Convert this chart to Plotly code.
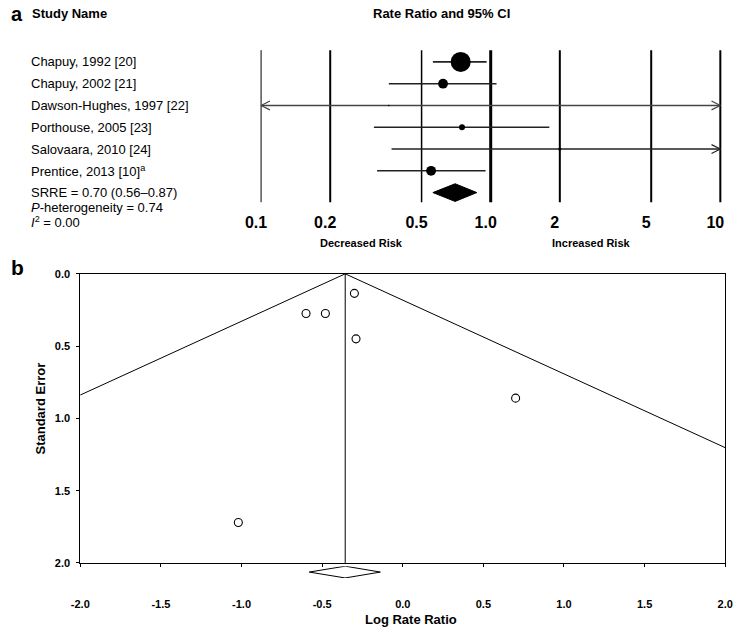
import plotly.graph_objects as go

# ---------------- data ----------------
studies = ["Chapuy, 1992 [20]", "Chapuy, 2002 [21]", "Dawson-Hughes, 1997 [22]",
           "Porthouse, 2005 [23]", "Salovaara, 2010 [24]", "Prentice, 2013 [10]<sup>a</sup>"]
rate_ratio = [0.74, 0.62, 0.36, 0.75, 2.0, 0.55]
ci_lower = [0.56, 0.36, 0.034, 0.31, 0.37, 0.32]
ci_upper = [0.96, 1.06, 10.5, 1.80, 10.8, 0.95]

pooled_rr = 0.70
pooled_lower = 0.56
pooled_upper = 0.87

ref_ticks = [0.1, 0.2, 0.5, 1.0, 2, 5, 10]
ref_tick_text = ["0.1", "0.2", "0.5", "1.0", "2", "5", "10"]

# funnel plot (panel b)
funnel_log_rr = [-0.30, -0.48, -1.02, -0.29, 0.70, -0.60]
funnel_se = [0.135, 0.275, 1.72, 0.45, 0.86, 0.275]
pooled_log = -0.357
pooled_log_lower = -0.58
pooled_log_upper = -0.139
se_max = 2.0

x2_ticks = [-2.0, -1.5, -1.0, -0.5, 0.0, 0.5, 1.0, 1.5, 2.0]
y2_ticks = [0.0, 0.5, 1.0, 1.5, 2.0]

# ---------------- geometry helpers ----------------
W, H = 742, 633
FONT = "Arial, Liberation Sans, sans-serif"


def py(p):
    return 1 - p / H


def px(p):
    return p / W


ROW0, ROWH = 57.0, 22.2          # pixel of first row, row height


def row_of(pix):
    return (pix - ROW0) / ROWH


PXDEC = 235.0                    # pixels per decade in panel a
XA_LEFT, XA_RIGHT = 250, 736
xa_range = [-1 - (258 - XA_LEFT) / PXDEC, 1 + (XA_RIGHT - 728) / PXDEC]

fig = go.Figure()

# reference vertical lines panel a
ref_widths = [1, 2, 1.5, 3, 2, 2, 2]
for v, w in zip(ref_ticks, ref_widths):
    fig.add_trace(go.Scatter(x=[v, v], y=[row_of(45), row_of(200)], mode="lines",
                             line=dict(color="black", width=w), xaxis="x", yaxis="y",
                             hoverinfo="skip", showlegend=False))

# CI lines and arrows
chev_f = 10 ** (9 / PXDEC)
chev_h = 4.5 / ROWH
xmin, xmax = ref_ticks[0], ref_ticks[-1]
for i, (lo, hi) in enumerate(zip(ci_lower, ci_upper)):
    lo_c = max(lo, xmin)
    hi_c = min(hi, xmax)
    col = "#444444" if (lo < xmin and hi > xmax) else "#222222"
    fig.add_trace(go.Scatter(x=[lo_c, hi_c], y=[i, i], mode="lines",
                             line=dict(color=col, width=1.6), xaxis="x", yaxis="y",
                             hoverinfo="skip", showlegend=False))
    if lo < xmin:
        fig.add_trace(go.Scatter(x=[xmin * chev_f, xmin, xmin * chev_f],
                                 y=[i - chev_h, i, i + chev_h], mode="lines",
                                 line=dict(color=col, width=1.2), xaxis="x", yaxis="y",
                                 hoverinfo="skip", showlegend=False))
    if hi > xmax:
        fig.add_trace(go.Scatter(x=[xmax / chev_f, xmax, xmax / chev_f],
                                 y=[i - chev_h, i, i + chev_h], mode="lines",
                                 line=dict(color=col, width=1.2), xaxis="x", yaxis="y",
                                 hoverinfo="skip", showlegend=False))

# point estimates, area proportional to inverse-variance weight
weights = [1 / s ** 2 for s in funnel_se]
wmax = max(weights)
sizes = [20 * (w / wmax) ** 0.5 for w in weights]
fig.add_trace(go.Scatter(x=rate_ratio, y=list(range(len(studies))), mode="markers",
                         marker=dict(color="black", size=sizes, opacity=1, line=dict(width=0)),
                         xaxis="x", yaxis="y", hoverinfo="skip", showlegend=False,
                         cliponaxis=False))

# pooled diamond
drow = len(studies)
dh = 9 / ROWH
fig.add_trace(go.Scatter(x=[pooled_lower, pooled_rr, pooled_upper, pooled_rr, pooled_lower],
                         y=[drow, drow - dh, drow, drow + dh, drow], mode="lines",
                         fill="toself", fillcolor="black", line=dict(color="black", width=1),
                         xaxis="x", yaxis="y", hoverinfo="skip", showlegend=False))

# ---------------- panel b ----------------
fig.add_trace(go.Scatter(x=[pooled_log - 1.96 * se_max, pooled_log, pooled_log + 1.96 * se_max],
                         y=[se_max, 0, se_max], mode="lines",
                         line=dict(color="black", width=1), xaxis="x2", yaxis="y2",
                         hoverinfo="skip", showlegend=False))
fig.add_trace(go.Scatter(x=[pooled_log, pooled_log], y=[0, se_max], mode="lines",
                         line=dict(color="black", width=1), xaxis="x2", yaxis="y2",
                         hoverinfo="skip", showlegend=False))
fig.add_trace(go.Scatter(x=funnel_log_rr, y=funnel_se, mode="markers",
                         marker=dict(symbol="circle-open", color="black", size=8,
                                     line=dict(width=1.1)),
                         xaxis="x2", yaxis="y2", hoverinfo="skip", showlegend=False))
fig.add_trace(go.Scatter(x=[pooled_log_lower, pooled_log, pooled_log_upper, pooled_log, pooled_log_lower],
                         y=[0, 1, 0, -1, 0], mode="lines", fill="toself", fillcolor="white",
                         line=dict(color="black", width=1), xaxis="x2", yaxis="y3",
                         hoverinfo="skip", showlegend=False))

# ---------------- annotations ----------------
ann = []


def text(x, y, s, size=13, bold=False, xanchor="left", yref="paper", xref="paper", **kw):
    ann.append(dict(x=x, y=y, xref=xref, yref=yref, text=(f"<b>{s}</b>" if bold else s),
                    showarrow=False, xanchor=xanchor, yanchor="middle",
                    font=dict(family=FONT, size=size, color="black"), **kw))


text(px(0), py(8), "a", size=20, bold=True)
text(px(22), py(8), "Study Name", size=13, bold=True)
text(px(443), py(8), "Rate Ratio and 95% CI", size=13, bold=True, xanchor="center")
for i, s in enumerate(studies):
    text(px(20), i, s, size=13, yref="y")
text(px(20), py(190), f"SRRE = {pooled_rr:.2f} ({pooled_lower:.2f}\u2013{pooled_upper:.2f})", size=13)
text(px(20), py(205), "<i>P</i>-heterogeneity = 0.74", size=13)
text(px(20), py(220), "<i>I</i><sup>2</sup> = 0.00", size=13)
text(px(361), py(242), "Decreased Risk", size=11, bold=True, xanchor="center")
text(px(596), py(242), "Increased Risk", size=11, bold=True, xanchor="center")

text(px(0), py(267), "b", size=21, bold=True)
text(px(411), py(625), "Log Rate Ratio", size=13, bold=True, xanchor="center")
text(px(32), py(410), "Standard Error", size=13, bold=True, xanchor="center", textangle=-90)

fig.update_layout(
    width=W, height=H, margin=dict(l=0, r=0, t=0, b=0),
    paper_bgcolor="white", plot_bgcolor="white",
    font=dict(family=FONT, color="black"),
    annotations=ann,
    xaxis=dict(type="log", domain=[px(XA_LEFT), px(XA_RIGHT)], range=xa_range,
               anchor="y", tickvals=ref_ticks, ticktext=[f"<b>{t}</b>" for t in ref_tick_text],
               tickfont=dict(family=FONT, size=16, color="black"), ticks="",
               showline=False, showgrid=False, zeroline=False, ticklabelstandoff=4,
               ticklabelshift=-5),
    yaxis=dict(domain=[py(205), py(40)], range=[row_of(205), row_of(40)],
               anchor="x", visible=False, showgrid=False, zeroline=False),
    xaxis2=dict(domain=[px(73), px(733)], range=[-2, 2], anchor="y2",
                tickvals=x2_ticks, ticktext=[f"<b>{t:.1f}</b>" for t in x2_ticks],
                tickfont=dict(family=FONT, size=11, color="black"),
                ticks="outside", ticklen=3, tickcolor="black",
                showline=True, linecolor="black", linewidth=1, mirror=True,
                showgrid=False, zeroline=False, ticklabelstandoff=28),
    yaxis2=dict(domain=[py(567.7), py(273)], range=[se_max, 0], anchor="x2",
                tickvals=y2_ticks, ticktext=[f"<b>{t:.1f}</b>" for t in y2_ticks],
                tickfont=dict(family=FONT, size=11, color="black"),
                ticks="outside", ticklen=3, tickcolor="black",
                showline=True, linecolor="black", linewidth=1, mirror=True,
                showgrid=False, zeroline=False, ticklabelstandoff=4),
    yaxis3=dict(domain=[py(583), py(571)], range=[-1, 1], anchor="x2",
                visible=False, showgrid=False, zeroline=False),
)

fig.write_html("out.html", config={"displayModeBar": False},
               post_script="document.body.style.margin='0';document.body.style.overflow='hidden';")
